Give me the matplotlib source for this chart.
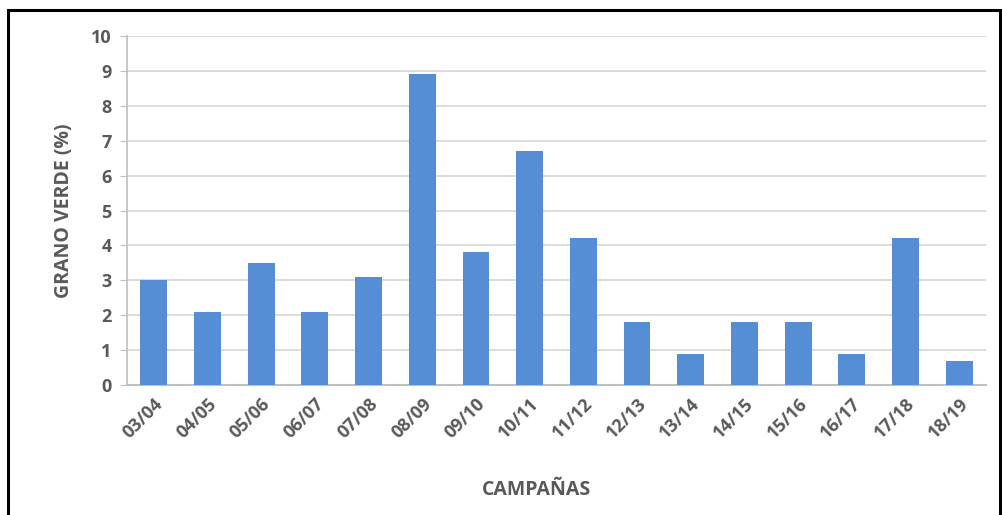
import matplotlib
matplotlib.use("Agg")
import matplotlib.pyplot as plt
from matplotlib.patches import Rectangle

campanas = ["03/04", "04/05", "05/06", "06/07", "07/08", "08/09", "09/10", "10/11",
            "11/12", "12/13", "13/14", "14/15", "15/16", "16/17", "17/18", "18/19"]
grano_verde = [3.0, 2.1, 3.5, 2.1, 3.1, 8.9, 3.8, 6.7, 4.2, 1.8, 0.9, 1.8, 1.8, 0.9, 4.2, 0.7]
yticks = list(range(0, 11))

plt.rcParams['font.family'] = ['Open Sans', 'DejaVu Sans']
txt = '#595959'

fig = plt.figure(figsize=(10.03, 5.15), dpi=100)
ax = fig.add_axes([127/1003, 1-385/515, (986-127)/1003, (385-36)/515])

x = list(range(len(campanas)))
ax.bar(x, grano_verde, width=0.5, color='#558ED5', zorder=3)
ax.set_xlim(-0.5, len(campanas)-0.5)
ax.set_ylim(0, 10)
ax.set_yticks(yticks)
ax.set_yticklabels([str(t) for t in yticks], fontsize=13, fontweight='bold', color=txt)
ax.set_xticks(x)
ax.set_xticklabels(campanas, rotation=45, ha='right', rotation_mode='anchor',
                   fontsize=13, fontweight='bold', color=txt)
ax.grid(axis='y', color='#d9d9d9', linewidth=1.3, zorder=0)
for s in ['top', 'right']:
    ax.spines[s].set_visible(False)
ax.spines['left'].set_color('#bfbfbf')
ax.spines['bottom'].set_color('#bfbfbf')
ax.spines['left'].set_linewidth(1.2)
ax.spines['bottom'].set_linewidth(1.5)
ax.tick_params(axis='y', direction='out', length=5, color='#bfbfbf', pad=6)
ax.tick_params(axis='x', length=0, pad=7)
ax.set_ylabel('GRANO VERDE (%)', fontsize=14, fontweight='bold', color=txt, labelpad=12)
fig.text(537/1003, 1-490/515, 'CAMPAÑAS', fontsize=14, fontweight='bold', color=txt,
         ha='center', va='center')

fig.patches.append(Rectangle((8/1003, -0.1), (1000-8)/1003, 1.1 - 10/515,
                             transform=fig.transFigure, fill=False, edgecolor='black',
                             linewidth=2.2))
fig.savefig('out.png', dpi=100)
